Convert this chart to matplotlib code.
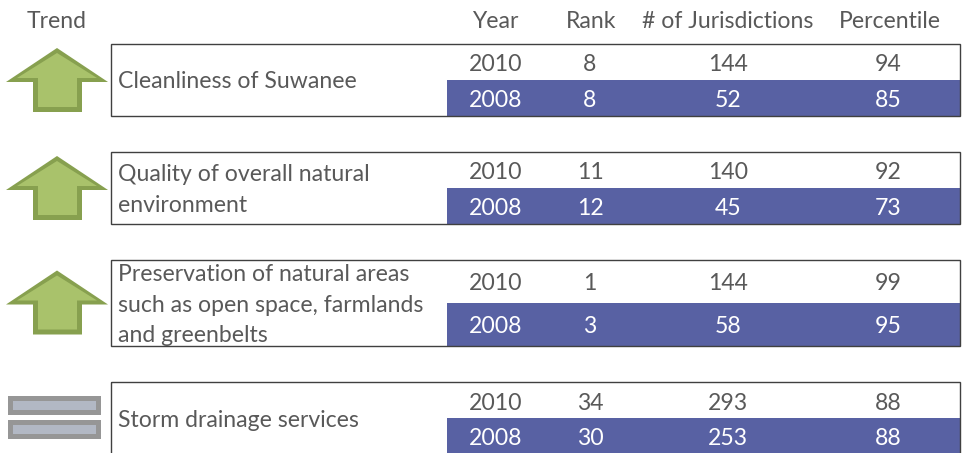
import matplotlib
matplotlib.use("Agg")
import matplotlib.pyplot as plt
from matplotlib.patches import Polygon, Rectangle

measures = [["Cleanliness of Suwanee"],
            ["Quality of overall natural", "environment"],
            ["Preservation of natural areas", "such as open space, farmlands", "and greenbelts"],
            ["Storm drainage services"]]
trends = ["up", "up", "up", "flat"]
years = ["2010", "2008"]
ranks = [[8, 8], [11, 12], [1, 3], [34, 30]]
jurisdictions = [[144, 52], [140, 45], [144, 58], [293, 253]]
percentiles = [[94, 85], [92, 73], [99, 95], [88, 88]]
headers = ["Trend", "Year", "Rank", "# of Jurisdictions", "Percentile"]

W, H = 966, 453
plt.rcParams['font.family'] = ['Lato', 'DejaVu Sans']
FS = 16.6
TXT = "#595959"
BLUE = "#5861A3"
LINE = "#404040"
GREEN_F, GREEN_E = "#A9C26B", "#87A04F"
GREY_F, GREY_E = "#B2B8C4", "#969696"

tops = [43.5, 151.5, 259.5, 382.0]
mids = [80, 188, 303, 418]
bots = [115.5, 223.5, 346, 470]
label_base = [[88], [181, 212], [281, 312, 342], [427]]
value_base = [[71, 107], [179, 215], [290, 333], [410, 445]]
arrow_top = [48, 156, 270.5]

fig = plt.figure(figsize=(W/100, H/100), dpi=100)
ax = fig.add_axes([0, 0, 1, 1])
ax.set_xlim(0, W); ax.set_ylim(H, 0); ax.axis("off")

hx = [57, 495, 591, 728, 890]
for x, h in zip(hx, headers):
    ax.text(x, 28, h, ha="center", va="baseline", fontsize=FS, color=TXT)

col_x = [496, 590, 728, 888]

for i in range(4):
    t, m, b = tops[i], mids[i], bots[i]
    ax.add_patch(Rectangle((447, m), 512.5, b-m, fc=BLUE, ec="none", zorder=1))
    ax.add_patch(Rectangle((110.5, t), 849, b-t, fc="none", ec=LINE, lw=1.0, zorder=2))
    for line, yb in zip(measures[i], label_base[i]):
        ax.text(118, yb, line, ha="left", va="baseline", fontsize=FS, color=TXT, zorder=3)
    for j in range(2):
        c = TXT if j == 0 else "white"
        vals = [years[j], ranks[i][j], jurisdictions[i][j], percentiles[i][j]]
        for x, v in zip(col_x, vals):
            ax.text(x, value_base[i][j], str(v), ha="center", va="baseline", fontsize=FS, color=c, zorder=3)
    if trends[i] == "up":
        a = arrow_top[i]
        outer = [(57, a), (108, a+34), (82, a+34), (82, a+64), (33, a+64), (33, a+34), (6, a+34)]
        inner = [(57, a+5), (97, a+30), (77, a+30), (77, a+59), (38, a+59), (38, a+30), (17, a+30)]
        ax.add_patch(Polygon(outer, closed=True, fc=GREEN_E, ec="none", zorder=2))
        ax.add_patch(Polygon(inner, closed=True, fc=GREEN_F, ec="none", zorder=3))
    else:
        for y0 in (396, 420):
            ax.add_patch(Rectangle((8, y0), 93, 18.5, fc=GREY_E, ec="none", zorder=2))
            ax.add_patch(Rectangle((13, y0+5), 83, 8.5, fc=GREY_F, ec="none", zorder=3))

fig.savefig("out.png", dpi=100)
